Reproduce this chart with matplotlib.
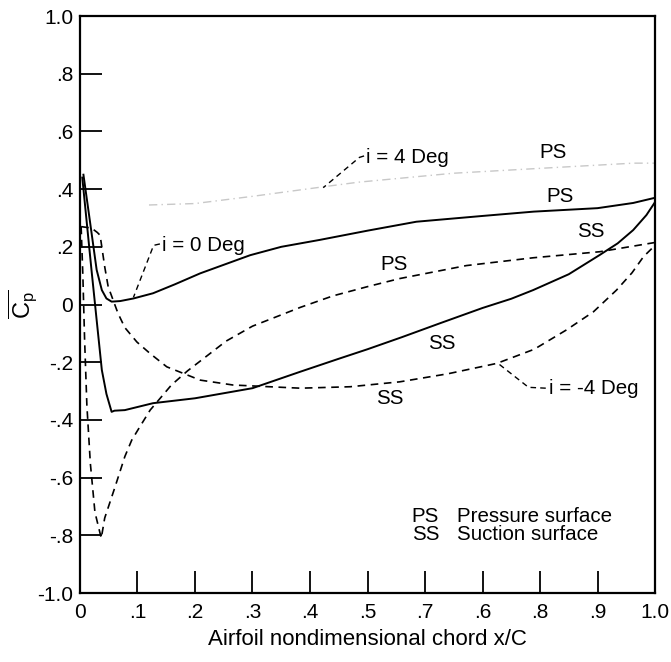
"""Pressure coefficient distributions over the airfoil chord for three incidences."""

import matplotlib

matplotlib.use("Agg")
import matplotlib.pyplot as plt


# i = 0 Deg (solid), pressure surface
ps0_x = [0.006, 0.017, 0.029, 0.038, 0.046, 0.055, 0.07, 0.093, 0.127, 0.165,
         0.209, 0.296, 0.35, 0.417, 0.5, 0.585, 0.70, 0.789, 0.90, 0.962, 1.0]
ps0_y = [0.45, 0.293, 0.12, 0.05, 0.021, 0.01, 0.012, 0.021, 0.039, 0.07,
         0.108, 0.171, 0.2, 0.224, 0.256, 0.287, 0.307, 0.322, 0.334, 0.352, 0.37]

# i = 0 Deg (solid), suction surface
ss0_x = [0.004, 0.02, 0.029, 0.038, 0.046, 0.055, 0.06, 0.078, 0.127, 0.2,
         0.3, 0.383, 0.45, 0.5, 0.56, 0.626, 0.70, 0.75, 0.788, 0.85, 0.904,
         0.935, 0.962, 0.985, 1.0]
ss0_y = [0.44, 0.12, -0.054, -0.227, -0.31, -0.372, -0.368, -0.366, -0.342,
         -0.325, -0.29, -0.233, -0.188, -0.155, -0.113, -0.065, -0.012, 0.02,
         0.05, 0.105, 0.172, 0.212, 0.258, 0.31, 0.355]

# i = -4 Deg (dashed), pressure surface
psm4_x = [0.002, 0.005, 0.008, 0.012, 0.018, 0.026, 0.037, 0.043, 0.061,
          0.078, 0.09, 0.104, 0.122, 0.159, 0.187, 0.254, 0.30, 0.383, 0.44,
          0.50, 0.556, 0.672, 0.788, 0.904, 1.0]
psm4_y = [0.27, 0.1, -0.12, -0.35, -0.55, -0.72, -0.81, -0.74, -0.632,
          -0.527, -0.47, -0.424, -0.366, -0.279, -0.23, -0.127, -0.075, -0.01,
          0.03, 0.062, 0.09, 0.135, 0.162, 0.183, 0.215]

# i = -4 Deg (dashed), suction surface
ssm4_x = [0.002, 0.02, 0.03, 0.035, 0.043, 0.049, 0.066, 0.078, 0.099, 0.122,
          0.151, 0.209, 0.266, 0.383, 0.47, 0.556, 0.64, 0.725, 0.79, 0.846,
          0.893, 0.933, 0.96, 0.98, 1.0]
ssm4_y = [0.27, 0.265, 0.25, 0.24, 0.131, 0.062, -0.03, -0.08, -0.13, -0.17,
          -0.216, -0.262, -0.279, -0.29, -0.285, -0.268, -0.24, -0.204, -0.155,
          -0.088, -0.025, 0.05, 0.11, 0.166, 0.205]

# i = 4 Deg (faded in the scan), pressure surface
ps4_x = [0.12, 0.2, 0.3, 0.423, 0.484, 0.649, 0.8, 0.962, 1.0]
ps4_y = [0.345, 0.35, 0.375, 0.408, 0.424, 0.455, 0.472, 0.49, 0.49]

x_ticks = [0.0, 0.1, 0.2, 0.3, 0.4, 0.5, 0.6, 0.7, 0.8, 0.9, 1.0]
# the source figure prints ".7" and ".6" in swapped order
x_tick_labels = ["0", ".1", ".2", ".3", ".4", ".5", ".7", ".6", ".8", ".9", "1.0"]
y_ticks = [-1.0, -0.8, -0.6, -0.4, -0.2, 0.0, 0.2, 0.4, 0.6, 0.8, 1.0]
y_tick_labels = ["-1.0", "-.8", "-.6", "-.4", "-.2", "0", ".2", ".4", ".6", ".8", "1.0"]


def main() -> None:
    """Draw the chart and save it to out.png."""
    plt.rcParams["font.family"] = ["Liberation Sans", "DejaVu Sans"]
    plt.rcParams["mathtext.fontset"] = "custom"
    plt.rcParams["mathtext.rm"] = "Liberation Sans"
    plt.rcParams["lines.scale_dashes"] = False

    fig = plt.figure(figsize=(6.71, 6.62), dpi=100)
    ax = fig.add_axes([0.1192, 0.1042, 0.857, 0.8716])

    dash = (5.5, 4.0)
    ax.plot(ps0_x, ps0_y, color="black", lw=1.4)
    ax.plot(ss0_x, ss0_y, color="black", lw=1.4)
    ax.plot(psm4_x, psm4_y, color="black", lw=1.2, dashes=dash)
    ax.plot(ssm4_x, ssm4_y, color="black", lw=1.2, dashes=dash)
    ax.plot(ps4_x, ps4_y, color="#c8c8c8", lw=1.0, dashes=(6, 3, 1, 3))

    # leader lines to the incidence labels
    ax.plot([0.139, 0.128, 0.093], [0.21, 0.205, 0.025], color="black", lw=1.0, dashes=(4, 3))
    ax.plot([0.494, 0.486, 0.423], [0.515, 0.51, 0.405], color="black", lw=1.0, dashes=(4, 3))
    ax.plot([0.81, 0.78, 0.727], [-0.29, -0.287, -0.204], color="black", lw=1.0, dashes=(4, 3))

    fs = 14.8
    ax.text(0.142, 0.205, "i = 0 Deg", fontsize=fs, ha="left", va="center")
    ax.text(0.497, 0.508, "i = 4 Deg", fontsize=fs, ha="left", va="center")
    ax.text(0.815, -0.29, "i = -4 Deg", fontsize=fs, ha="left", va="center")

    for label, lx, ly in [("PS", 0.822, 0.526), ("PS", 0.835, 0.374),
                          ("SS", 0.889, 0.252), ("PS", 0.547, 0.137),
                          ("SS", 0.629, -0.134), ("SS", 0.538, -0.325)]:
        ax.text(lx, ly, label, fontsize=fs, ha="center", va="center")

    ax.text(0.577, -0.734, "PS", fontsize=fs, ha="left", va="center")
    ax.text(0.655, -0.734, "Pressure surface", fontsize=fs, ha="left", va="center")
    ax.text(0.577, -0.797, "SS", fontsize=fs, ha="left", va="center")
    ax.text(0.655, -0.797, "Suction surface", fontsize=fs, ha="left", va="center")

    ax.set_xlim(0, 1.0)
    ax.set_ylim(-1.0, 1.0)
    ax.set_xticks(x_ticks)
    ax.set_xticklabels(x_tick_labels)
    ax.set_yticks(y_ticks)
    ax.set_yticklabels(y_tick_labels)
    ax.tick_params(direction="in", length=16, width=1.3, labelsize=15,
                   top=False, right=False)
    ax.tick_params(axis="x", pad=7)
    ax.tick_params(axis="y", pad=5)
    for spine in ax.spines.values():
        spine.set_linewidth(1.6)

    ax.set_xlabel("Airfoil nondimensional chord x/C", fontsize=16, labelpad=5)
    # y label placed by hand so the overline stays inside the figure
    ax.text(-0.1, 0.5, r"$\overline{\mathrm{C_p}}$", fontsize=17, rotation=90,
            ha="center", va="center", transform=ax.transAxes)

    fig.savefig("out.png", dpi=100)


if __name__ == "__main__":
    main()
